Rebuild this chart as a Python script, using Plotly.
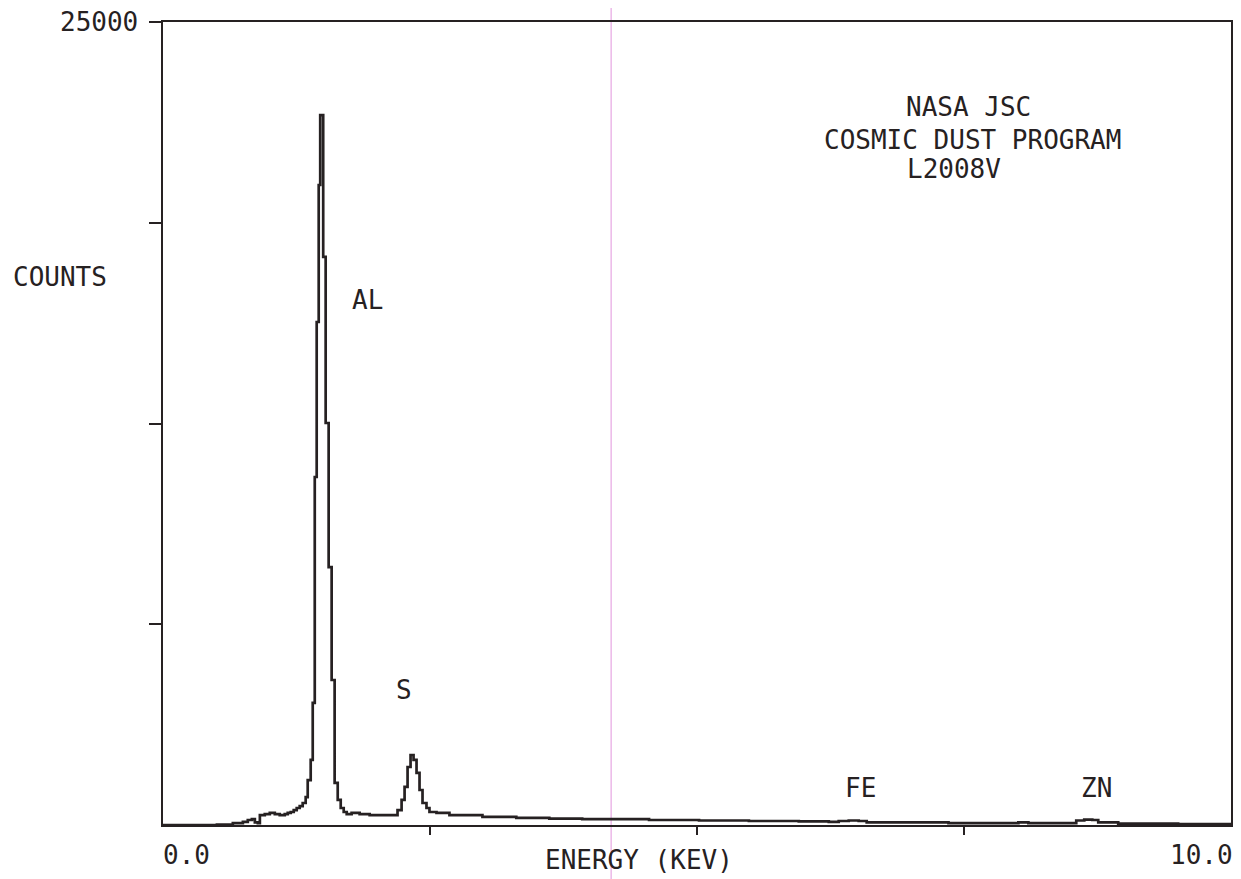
import plotly.graph_objects as go

# Spectrum: energy (keV) and counts
energy_kev = [0.0, 0.346, 0.505, 0.654, 0.748, 0.794, 0.832, 0.860, 0.888, 0.907,
              0.953, 1.000, 1.047, 1.093, 1.140, 1.168, 1.196, 1.224, 1.252, 1.280,
              1.308, 1.336, 1.355, 1.383, 1.402, 1.421, 1.439, 1.458, 1.472, 1.500,
              1.523, 1.551, 1.579, 1.607, 1.636, 1.664, 1.692, 1.720, 1.766, 1.841,
              1.935, 2.028, 2.121, 2.196, 2.234, 2.262, 2.290, 2.318, 2.346, 2.374,
              2.402, 2.430, 2.467, 2.495, 2.561, 2.682, 2.991, 3.308, 3.617, 3.925,
              4.551, 5.019, 5.486, 5.953, 6.234, 6.327, 6.421, 6.514, 6.589, 6.888,
              7.355, 7.822, 8.009, 8.103, 8.477, 8.551, 8.626, 8.701, 8.757, 8.944,
              9.505, 10.0]
counts = [0, 0, 15, 60, 95, 155, 185, 80, 60, 310,
          340, 375, 340, 310, 340, 375, 405, 465, 530, 590,
          685, 870, 1400, 2025, 3800, 10835, 15660, 19925, 22100, 17685,
          12515, 8030, 4515, 1310, 780, 530, 405, 340, 375, 340,
          310, 310, 310, 465, 780, 1185, 1805, 2180, 2025, 1620,
          1090, 685, 530, 405, 375, 310, 250, 220, 200, 185,
          155, 140, 125, 110, 95, 125, 140, 125, 80, 80,
          60, 60, 80, 60, 60, 140, 170, 155, 80, 45,
          30, 30]

# Peak labels
peak_labels = ["AL", "S", "FE", "ZN"]
peak_label_x = [1.916, 2.252, 6.533, 8.738]
peak_label_y = [16345, 4203, 1152, 1152]

# Title block lines
title_lines = ["NASA JSC", "COSMIC DUST PROGRAM", "L2008V"]
title_x = [7.542, 7.579, 7.402]
title_y = [22354, 21330, 20420]

y_ticks = [6250, 12500, 18750, 25000]
x_ticks = [2.5, 5.0, 7.5]

INK = "#262122"
FONT = "DejaVu Sans Mono"
FS = 26

fig = go.Figure()
fig.add_trace(go.Scatter(
    x=energy_kev, y=counts, mode="lines",
    line=dict(color=INK, width=2.7, shape="hv"),
    hoverinfo="x+y", showlegend=False,
))

annotations = []
for t, x, y in zip(peak_labels, peak_label_x, peak_label_y):
    annotations.append(dict(text=t, x=x, y=y, xref="x", yref="y",
                            showarrow=False, xanchor="center", yanchor="middle",
                            font=dict(family=FONT, size=FS, color=INK)))
for t, x, y in zip(title_lines, title_x, title_y):
    annotations.append(dict(text=t, x=x, y=y, xref="x", yref="y",
                            showarrow=False, xanchor="center", yanchor="middle",
                            font=dict(family=FONT, size=FS, color=INK)))

annotations += [
    dict(text="25000", x=-0.0215, y=1.0, xref="paper", yref="paper",
         showarrow=False, xanchor="right", yanchor="middle",
         font=dict(family=FONT, size=FS, color=INK)),
    dict(text="COUNTS", x=-0.142, y=17060, xref="paper", yref="y",
         showarrow=False, xanchor="left", yanchor="middle",
         font=dict(family=FONT, size=FS, color=INK)),
    dict(text="0.0", x=-0.002, y=-0.037, xref="paper", yref="paper",
         showarrow=False, xanchor="left", yanchor="middle",
         font=dict(family=FONT, size=FS, color=INK)),
    dict(text="10.0", x=1.004, y=-0.037, xref="paper", yref="paper",
         showarrow=False, xanchor="right", yanchor="middle",
         font=dict(family=FONT, size=FS, color=INK)),
    dict(text="ENERGY (KEV)", x=4.46, y=-0.044, xref="x", yref="paper",
         showarrow=False, xanchor="center", yanchor="middle",
         font=dict(family=FONT, size=FS, color=INK)),
]

# The page body has an 8px margin, so the figure is offset by 8px.
fig.update_layout(
    width=1233, height=871,
    margin=dict(l=155, r=8, t=14, b=54),
    paper_bgcolor="white", plot_bgcolor="white",
    annotations=annotations,
    shapes=[dict(type="line", xref="x", yref="paper", x0=4.196, x1=4.196,
                 y0=-0.07, y1=1.02, line=dict(color="#e6a6e2", width=1.2),
                 layer="below")],
)
fig.update_xaxes(range=[0, 10], showgrid=False, zeroline=False,
                 showline=True, mirror=True, linecolor=INK, linewidth=2,
                 ticks="outside", tickvals=x_ticks, ticklen=8, tickwidth=2,
                 tickcolor=INK, showticklabels=False)
fig.update_yaxes(range=[0, 25000], showgrid=False, zeroline=False,
                 showline=True, mirror=True, linecolor=INK, linewidth=2,
                 ticks="outside", tickvals=y_ticks, ticklen=12, tickwidth=2,
                 tickcolor=INK, showticklabels=False)

fig.write_html("out.html")
